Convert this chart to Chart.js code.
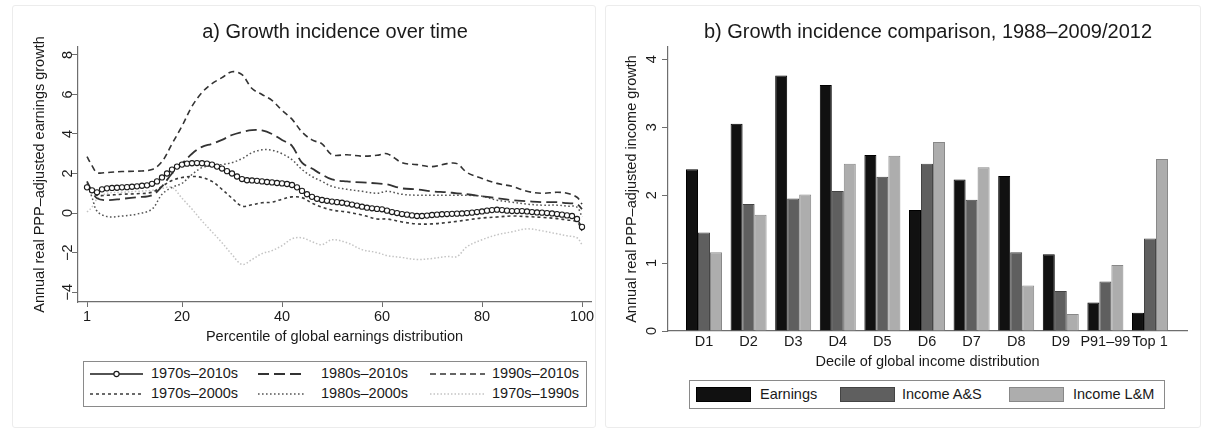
<!DOCTYPE html>
<html><head><meta charset="utf-8">
<script src="https://cdn.jsdelivr.net/npm/chart.js@4/dist/chart.umd.min.js"></script>
<style>
html,body{margin:0;padding:0;background:#fff;}
body{width:1205px;height:428px;overflow:hidden;position:relative;font-family:"Liberation Sans",Arial,Helvetica,sans-serif;}
canvas{position:absolute;}
.panel{position:absolute;border:1px solid #ececec;border-radius:3px;box-sizing:border-box;}
.legend{position:absolute;border:1.5px solid #8a8a8a;background:#fff;box-sizing:border-box;}
.lt{position:absolute;font-size:14.5px;line-height:17px;color:#1a1a1a;white-space:nowrap;}
.sw{position:absolute;box-sizing:border-box;border:1px solid #555;}
</style>
</head><body>
<div class="panel" style="left:12px;top:5px;width:584px;height:423px;"></div>
<div class="panel" style="left:605px;top:5px;width:596px;height:423px;"></div>
<canvas id="c1" width="600" height="350" style="left:0;top:0;"></canvas>
<canvas id="c2" width="605" height="375" style="left:600px;top:0;"></canvas>

<div class="legend" style="left:83px;top:361px;width:504px;height:46px;">
  <svg width="504" height="46" style="position:absolute;left:-1.5px;top:-1.5px;">
    <line x1="7" y1="13" x2="60" y2="13" stroke="#1a1a1a" stroke-width="1.4"/>
    <circle cx="33.5" cy="13" r="2.6" fill="#fff" stroke="#1a1a1a" stroke-width="1.1"/>
    <line x1="175" y1="13" x2="222" y2="13" stroke="#333" stroke-width="1.8" stroke-dasharray="11,5"/>
    <line x1="347" y1="13" x2="402" y2="13" stroke="#333" stroke-width="1.6" stroke-dasharray="6,4"/>
    <line x1="7" y1="33" x2="60" y2="33" stroke="#3a3a3a" stroke-width="1.6" stroke-dasharray="3,3"/>
    <line x1="175" y1="33" x2="222" y2="33" stroke="#555" stroke-width="1.5" stroke-dasharray="1.6,2.4"/>
    <line x1="347" y1="33" x2="402" y2="33" stroke="#c4c4c4" stroke-width="1.5" stroke-dasharray="1.5,2"/>
  </svg>
  <span class="lt" style="left:67px;top:3px;">1970s–2010s</span>
  <span class="lt" style="left:237px;top:3px;">1980s–2010s</span>
  <span class="lt" style="left:408px;top:3px;">1990s–2010s</span>
  <span class="lt" style="left:67px;top:23px;">1970s–2000s</span>
  <span class="lt" style="left:237px;top:23px;">1980s–2000s</span>
  <span class="lt" style="left:408px;top:23px;">1970s–1990s</span>
</div>

<div class="legend" style="left:689px;top:380px;width:476px;height:29px;">
  <div class="sw" style="left:6px;top:6px;width:55px;height:15px;background:#111;border-color:#000;"></div>
  <span class="lt" style="left:70px;top:5px;">Earnings</span>
  <div class="sw" style="left:150px;top:6px;width:55px;height:15px;background:#5f5f5f;border-color:#444;"></div>
  <span class="lt" style="left:212px;top:5px;">Income A&amp;S</span>
  <div class="sw" style="left:319px;top:6px;width:55px;height:15px;background:#adadad;border-color:#888;"></div>
  <span class="lt" style="left:383px;top:5px;">Income L&amp;M</span>
</div>

<script>
// ---------- Panel a) data ----------
const pctFine = [1,2,3,4,5,6,7,8,9,10,11,12,13,14,15,16,17,18,19,20,21,22,23,24,25,26,27,28,29,30,
  31,32,33,34,35,36,37,38,39,40,41,42,43,44,45,46,47,48,49,50,51,52,53,54,55,56,57,58,59,60,
  61,62,63,64,65,66,67,68,69,70,71,72,73,74,75,76,77,78,79,80,81,82,83,84,85,86,87,88,89,90,
  91,92,93,94,95,96,97,98,99,100];
const s7010 = [1.30,1.15,1.05,1.20,1.25,1.27,1.28,1.30,1.31,1.33,1.35,1.38,1.40,1.48,1.60,1.80,2.00,2.20,2.35,2.45,
  2.50,2.52,2.53,2.52,2.50,2.45,2.35,2.25,2.12,2.00,1.85,1.72,1.66,1.65,1.63,1.60,1.57,1.55,1.52,1.50,
  1.47,1.42,1.30,1.12,0.95,0.82,0.72,0.66,0.62,0.58,0.55,0.52,0.48,0.43,0.38,0.32,0.27,0.24,0.21,0.19,
  0.12,0.05,0.00,-0.05,-0.08,-0.12,-0.15,-0.15,-0.13,-0.10,-0.08,-0.06,-0.05,-0.04,-0.03,-0.02,0.00,0.02,0.05,0.08,
  0.12,0.15,0.17,0.15,0.12,0.10,0.10,0.10,0.08,0.05,0.03,0.02,0.00,-0.02,-0.05,-0.08,-0.12,-0.15,-0.30,-0.70];
const pctCoarse = [1,2,3,5,8,11,14,16,18,20,22,24,26,28,30,32,34,36,38,40,42,44,46,48,50,53,56,59,61,64,67,70,73,75,77,80,83,86,89,92,95,97,99,100];
const s8010 = [1.60,1.10,0.75,0.65,0.72,0.80,0.90,1.35,2.00,2.50,3.00,3.35,3.50,3.70,3.95,4.10,4.20,4.18,4.00,3.70,3.40,2.55,2.25,1.95,1.70,1.60,1.55,1.50,1.45,1.25,1.20,1.10,1.05,1.00,0.95,0.85,0.75,0.65,0.60,0.55,0.55,0.50,0.45,0.20];
const s9010 = [2.85,2.40,2.05,2.05,2.10,2.12,2.20,2.60,3.50,4.40,5.40,6.10,6.55,6.85,7.15,7.00,6.30,6.00,5.70,5.20,4.75,4.10,3.70,3.50,2.95,2.95,2.88,2.92,3.00,2.55,2.45,2.35,2.50,2.50,2.05,1.75,1.50,1.35,1.10,1.00,1.05,1.00,0.80,0.45];
const s7000 = [1.40,1.10,0.90,0.90,0.95,0.98,1.05,1.35,1.65,1.80,1.85,1.80,1.60,1.20,0.75,0.35,0.42,0.52,0.55,0.70,0.82,0.78,0.50,0.30,0.15,0.05,-0.10,-0.30,-0.30,-0.45,-0.55,-0.55,-0.48,-0.42,-0.35,-0.25,-0.20,-0.15,-0.18,-0.22,-0.28,-0.35,-0.45,-0.90];
const s8000 = [1.50,0.80,0.10,-0.18,-0.15,-0.05,0.20,0.95,1.30,1.50,1.95,2.30,2.40,2.45,2.55,2.75,3.05,3.20,3.18,3.00,2.70,2.20,1.85,1.60,1.35,1.20,1.10,1.00,1.10,0.95,0.90,0.90,0.90,0.90,0.90,0.85,0.65,0.55,0.45,0.40,0.40,0.35,0.30,-0.20];
const s7090 = [0.05,0.30,0.70,1.00,1.05,1.10,1.15,1.25,1.30,0.75,0.20,-0.40,-0.95,-1.50,-2.10,-2.60,-2.35,-2.05,-1.90,-1.65,-1.30,-1.25,-1.45,-1.60,-1.35,-1.50,-1.85,-2.00,-2.15,-2.25,-2.35,-2.30,-2.20,-2.20,-1.70,-1.35,-1.10,-0.95,-0.80,-0.90,-1.05,-1.15,-1.25,-1.60];
const xTicksA = [1,20,40,60,80,100];
const yTicksA = [-4,-2,0,2,4,6,8];

// ---------- Panel b) data ----------
const deciles = ['D1','D2','D3','D4','D5','D6','D7','D8','D9','P91–99','Top 1'];
const earnings = [2.38,3.05,3.76,3.62,2.59,1.78,2.23,2.28,1.13,0.42,0.27];
const incomeAS = [1.45,1.87,1.95,2.06,2.27,2.46,1.93,1.16,0.59,0.73,1.36];
const incomeLM = [1.16,1.71,2.01,2.46,2.58,2.78,2.41,0.67,0.25,0.97,2.53];
const yTicksB = [0,1,2,3,4];

const FONT = '"Liberation Sans", Arial, Helvetica, sans-serif';
function pts(xs, ys){ return xs.map((x,i)=>({x:x, y:ys[i]})); }
function rotText(ctx, t, x, y, size){
  ctx.save(); ctx.translate(x,y); ctx.rotate(-Math.PI/2);
  ctx.font = size + 'px ' + FONT; ctx.fillStyle = '#1a1a1a';
  ctx.textAlign='center'; ctx.textBaseline='middle'; ctx.fillText(t,0,0); ctx.restore();
}
function hText(ctx, t, x, y, size){
  ctx.save(); ctx.font = size + 'px ' + FONT; ctx.fillStyle = '#1a1a1a';
  ctx.textAlign='center'; ctx.textBaseline='middle'; ctx.fillText(t,x,y); ctx.restore();
}

const axisCol = '#6e6e6e';

// ---------- Chart a ----------
const textA = {
  id:'textA',
  afterDraw(chart){
    const ctx = chart.ctx, ys = chart.scales.y, xs = chart.scales.x;
    hText(ctx, 'a) Growth incidence over time', 335, 32, 20);
    yTicksA.forEach(v => rotText(ctx, String(v).replace('-', '−'), 68, ys.getPixelForValue(v), 14.5));
    xTicksA.forEach(v => hText(ctx, String(v), xs.getPixelForValue(v), 317, 14.5));
    rotText(ctx, 'Annual real PPP–adjusted earnings growth', 40, (chart.chartArea.top+chart.chartArea.bottom)/2, 14.5);
    hText(ctx, 'Percentile of global earnings distribution', (chart.chartArea.left+chart.chartArea.right)/2, 337, 14.5);
  }
};
new Chart(document.getElementById('c1'), {
  type:'line',
  data:{ datasets:[
    {label:'1970s–2010s', data:pts(pctFine,s7010), borderColor:'#1c1c1c', borderWidth:1.3,
     pointRadius:2.6, pointBorderWidth:1.1, pointBackgroundColor:'#fff', pointBorderColor:'#1c1c1c', tension:0},
    {label:'1980s–2010s', data:pts(pctCoarse,s8010), borderColor:'#333', borderWidth:1.8, borderDash:[11,5], pointRadius:0, tension:0.35},
    {label:'1990s–2010s', data:pts(pctCoarse,s9010), borderColor:'#333', borderWidth:1.6, borderDash:[6,4], pointRadius:0, tension:0.35},
    {label:'1970s–2000s', data:pts(pctCoarse,s7000), borderColor:'#3a3a3a', borderWidth:1.6, borderDash:[3,3], pointRadius:0, tension:0.35},
    {label:'1980s–2000s', data:pts(pctCoarse,s8000), borderColor:'#555', borderWidth:1.5, borderDash:[1.6,2.4], pointRadius:0, tension:0.35},
    {label:'1970s–1990s', data:pts(pctCoarse,s7090), borderColor:'#c4c4c4', borderWidth:1.5, borderDash:[1.5,2], pointRadius:0, tension:0.35}
  ]},
  options:{
    responsive:false, animation:false, events:[],
    layout:{padding:{left:70, right:9, top:47, bottom:40}},
    plugins:{legend:{display:false}, tooltip:{enabled:false}, title:{display:false}},
    scales:{
      x:{type:'linear', min:-0.8, max:101.8,
        afterBuildTicks(s){ s.ticks = xTicksA.map(v=>({value:v})); },
        afterFit(s){ s.height = 8; },
        ticks:{display:false},
        grid:{drawOnChartArea:false, drawTicks:true, tickLength:5, color:axisCol},
        border:{display:true, color:axisCol, width:1.2}},
      y:{type:'linear', min:-4.5, max:8.4,
        afterBuildTicks(s){ s.ticks = yTicksA.map(v=>({value:v})); },
        afterFit(s){ s.width = 8; },
        ticks:{display:false},
        grid:{drawOnChartArea:false, drawTicks:true, tickLength:6, color:axisCol},
        border:{display:true, color:axisCol, width:1.2}}
    }
  },
  plugins:[textA]
});

// ---------- Chart b ----------
const textB = {
  id:'textB',
  afterDraw(chart){
    const ctx = chart.ctx, ys = chart.scales.y, xs = chart.scales.x;
    hText(ctx, 'b) Growth incidence comparison, 1988–2009/2012', 328, 32, 20);
    yTicksB.forEach(v => rotText(ctx, String(v), 52, ys.getPixelForValue(v), 14.5));
    deciles.forEach((d,i) => hText(ctx, d, xs.getPixelForValue(i), 342, 14.5));
    rotText(ctx, 'Annual real PPP–adjusted income growth', 32, (chart.chartArea.top+chart.chartArea.bottom)/2, 14.5);
    hText(ctx, 'Decile of global income distribution', (chart.chartArea.left+chart.chartArea.right)/2, 362, 14.5);
  }
};
const idx = deciles.map((d,i)=>i);
new Chart(document.getElementById('c2'), {
  type:'bar',
  data:{ datasets:[
    {label:'Earnings', data:pts(idx,earnings), backgroundColor:'#111', borderColor:'#000', borderWidth:1},
    {label:'Income A&S', data:pts(idx,incomeAS), backgroundColor:'#5f5f5f', borderColor:'#444', borderWidth:1},
    {label:'Income L&M', data:pts(idx,incomeLM), backgroundColor:'#adadad', borderColor:'#888', borderWidth:1}
  ]},
  options:{
    responsive:false, animation:false, events:[],
    layout:{padding:{left:60, right:18, top:47, bottom:36}},
    datasets:{bar:{categoryPercentage:0.807, barPercentage:1, borderSkipped:'bottom'}},
    plugins:{legend:{display:false}, tooltip:{enabled:false}, title:{display:false}},
    scales:{
      x:{type:'linear', min:-0.807, max:10.83, offset:false,
        afterBuildTicks(s){ s.ticks = idx.map(v=>({value:v})); },
        afterFit(s){ s.height = 8; },
        ticks:{display:false},
        grid:{display:false, drawTicks:false},
        border:{display:true, color:axisCol, width:1.2}},
      y:{type:'linear', min:0, max:4.18,
        afterBuildTicks(s){ s.ticks = yTicksB.map(v=>({value:v})); },
        afterFit(s){ s.width = 8; },
        ticks:{display:false},
        grid:{drawOnChartArea:false, drawTicks:true, tickLength:6, color:axisCol},
        border:{display:true, color:axisCol, width:1.2}}
    }
  },
  plugins:[textB]
});
</script>
</body></html>
